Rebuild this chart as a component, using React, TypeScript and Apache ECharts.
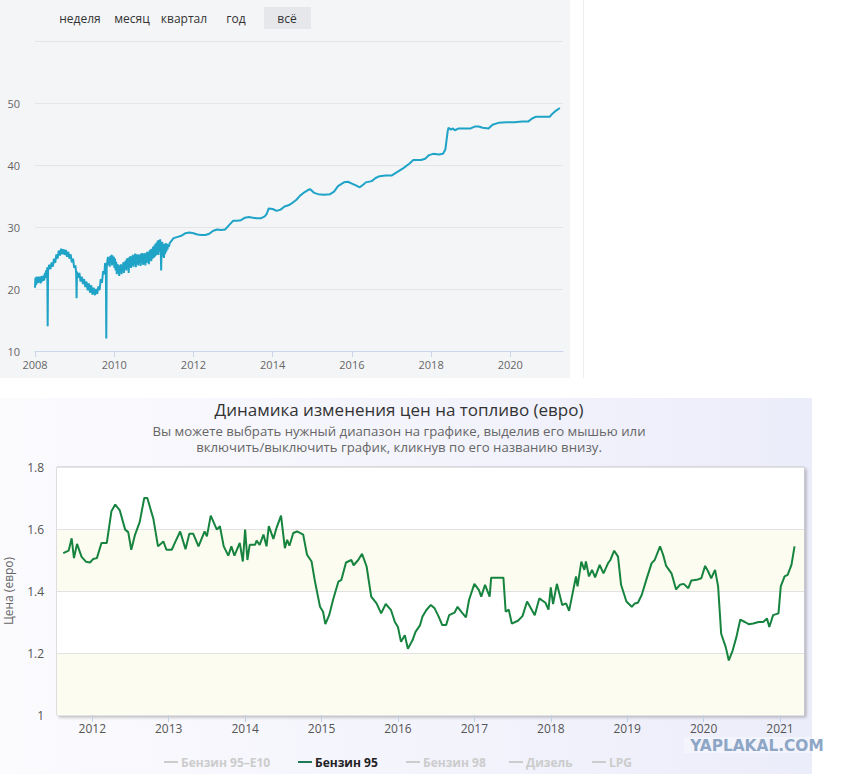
import React, { useEffect, useRef } from "react";
import * as echarts from "echarts";

// ---- Top chart: price series 2008–2021 (year, price)
const rangeButtons = ["неделя", "месяц", "квартал", "год", "всё"];
const topYTicks = [10, 20, 30, 40, 50, 60];
const topXTicks = [2008, 2010, 2012, 2014, 2016, 2018, 2020];
const topPriceSeries: [number, number][] = [
  [2008.0, 20.2], [2008.01, 21.8], [2008.025, 20.6], [2008.04, 22.0], [2008.055, 20.9], [2008.07, 21.9],
  [2008.085, 21.0], [2008.1, 22.0], [2008.115, 21.1], [2008.13, 21.9], [2008.145, 20.9], [2008.16, 22.1],
  [2008.175, 21.2], [2008.19, 22.0], [2008.205, 21.3], [2008.22, 22.2], [2008.235, 21.4], [2008.25, 22.6],
  [2008.265, 21.8], [2008.28, 23.0], [2008.295, 22.2], [2008.31, 23.5],
  [2008.32, 14.0], [2008.33, 23.0], [2008.36, 23.9], [2008.39, 23.2], [2008.42, 24.3], [2008.45, 23.6],
  [2008.48, 24.9], [2008.51, 24.2], [2008.54, 25.6], [2008.57, 24.9], [2008.6, 26.2], [2008.63, 25.4],
  [2008.66, 26.5], [2008.69, 25.6], [2008.72, 26.4], [2008.75, 25.5], [2008.78, 26.3], [2008.81, 25.2],
  [2008.84, 26.0], [2008.87, 24.9], [2008.9, 25.6], [2008.93, 24.3], [2008.96, 24.9], [2008.99, 23.4],
  [2009.02, 23.8], [2009.04, 22.5], [2009.05, 18.5], [2009.06, 22.8], [2009.09, 21.8], [2009.12, 22.6],
  [2009.15, 21.2], [2009.18, 22.0], [2009.21, 20.8], [2009.24, 21.6], [2009.27, 20.3], [2009.3, 21.2],
  [2009.33, 19.8], [2009.36, 20.9], [2009.39, 19.4], [2009.42, 20.6], [2009.45, 19.1], [2009.48, 20.2],
  [2009.51, 19.0], [2009.54, 20.0], [2009.57, 19.2], [2009.6, 20.4], [2009.63, 19.8], [2009.66, 21.6],
  [2009.69, 21.0], [2009.72, 22.9], [2009.75, 22.4], [2009.77, 24.2], [2009.79, 23.1], [2009.8, 12.0],
  [2009.81, 23.5], [2009.84, 25.2], [2009.855, 23.9], [2009.87, 25.0], [2009.885, 23.6], [2009.9, 25.3],
  [2009.915, 24.2], [2009.93, 25.5], [2009.945, 23.8], [2009.96, 25.4], [2009.975, 24.0], [2009.99, 25.2],
  [2010.005, 23.4], [2010.02, 24.9], [2010.035, 23.0], [2010.05, 24.4], [2010.065, 22.4], [2010.08, 24.0],
  [2010.095, 22.8], [2010.11, 23.9], [2010.125, 22.1], [2010.14, 23.6], [2010.155, 22.7], [2010.17, 24.0],
  [2010.185, 22.4], [2010.2, 23.8], [2010.215, 22.9], [2010.23, 24.3], [2010.245, 22.6], [2010.26, 24.4],
  [2010.275, 23.2], [2010.29, 24.6], [2010.305, 23.0], [2010.32, 24.9], [2010.335, 23.5], [2010.35, 25.0],
  [2010.365, 22.6], [2010.38, 25.1], [2010.395, 23.6], [2010.41, 25.3], [2010.425, 23.4], [2010.44, 25.2],
  [2010.455, 23.8], [2010.47, 25.5], [2010.485, 23.6], [2010.5, 25.4], [2010.515, 24.0], [2010.53, 25.7],
  [2010.545, 23.5], [2010.56, 25.6], [2010.575, 24.1], [2010.59, 25.5], [2010.605, 23.8], [2010.62, 25.6],
  [2010.635, 24.2], [2010.65, 25.4], [2010.665, 23.7], [2010.68, 25.7], [2010.695, 24.3], [2010.71, 25.8],
  [2010.725, 23.9], [2010.74, 25.6], [2010.755, 24.1], [2010.77, 25.8], [2010.785, 23.8], [2010.8, 25.6],
  [2010.815, 24.2], [2010.83, 26.0], [2010.845, 24.4], [2010.86, 25.9], [2010.875, 24.0], [2010.89, 26.2],
  [2010.905, 24.6], [2010.92, 26.4], [2010.935, 24.5], [2010.95, 26.5], [2010.965, 24.9], [2010.98, 26.8],
  [2010.995, 25.0], [2011.01, 27.0], [2011.025, 25.2], [2011.04, 27.3], [2011.055, 25.4], [2011.07, 27.5],
  [2011.085, 25.6], [2011.1, 27.8], [2011.115, 25.5], [2011.13, 27.9], [2011.145, 26.0], [2011.16, 28.0],
  [2011.175, 26.2], [2011.185, 23.0], [2011.195, 26.5], [2011.21, 27.6], [2011.225, 25.2], [2011.24, 27.3],
  [2011.255, 25.0], [2011.27, 27.2], [2011.285, 25.6], [2011.3, 27.4], [2011.315, 26.0], [2011.33, 27.3],
  [2011.345, 26.4], [2011.36, 27.2], [2011.38, 26.8], [2011.4, 27.4],
  [2011.45, 27.8], [2011.5, 28.2], [2011.6, 28.4], [2011.7, 28.6], [2011.8, 29.0],
  [2011.9, 29.1], [2012.0, 29.0], [2012.1, 28.8], [2012.2, 28.7], [2012.3, 28.7], [2012.4, 28.9],
  [2012.5, 29.4], [2012.6, 29.6], [2012.7, 29.5], [2012.8, 29.6], [2012.9, 30.3], [2013.0, 31.0],
  [2013.1, 31.0], [2013.2, 31.1], [2013.3, 31.5], [2013.4, 31.6], [2013.5, 31.5], [2013.6, 31.4],
  [2013.7, 31.4], [2013.8, 31.7], [2013.85, 32.1], [2013.9, 33.0], [2014.0, 32.9], [2014.1, 32.6],
  [2014.2, 32.8], [2014.3, 33.3], [2014.4, 33.5], [2014.5, 33.9], [2014.6, 34.4], [2014.7, 35.1],
  [2014.8, 35.6], [2014.9, 36.0], [2014.95, 36.1], [2015.05, 35.5], [2015.15, 35.3], [2015.3, 35.2],
  [2015.45, 35.3], [2015.55, 35.7], [2015.65, 36.6], [2015.8, 37.2], [2015.9, 37.3], [2016.0, 37.0],
  [2016.1, 36.7], [2016.2, 36.4], [2016.3, 36.9], [2016.35, 37.2], [2016.5, 37.4], [2016.6, 37.9],
  [2016.7, 38.2], [2016.85, 38.3], [2017.0, 38.3], [2017.15, 38.9], [2017.3, 39.5], [2017.45, 40.2],
  [2017.55, 40.8], [2017.65, 40.8], [2017.75, 40.8], [2017.85, 41.0], [2017.95, 41.6], [2018.05, 41.8],
  [2018.2, 41.7], [2018.3, 41.8], [2018.36, 42.5], [2018.42, 45.5], [2018.44, 46.0], [2018.5, 45.7],
  [2018.55, 45.9], [2018.6, 45.6], [2018.7, 45.9], [2018.85, 45.9], [2019.0, 45.9], [2019.1, 46.2],
  [2019.2, 46.2], [2019.3, 46.0], [2019.45, 45.9], [2019.55, 46.5], [2019.7, 46.8], [2019.9, 46.9],
  [2020.1, 46.9], [2020.3, 47.0], [2020.45, 47.0], [2020.55, 47.5], [2020.65, 47.8], [2020.8, 47.8],
  [2021.0, 47.8], [2021.05, 48.2], [2021.12, 48.6], [2021.25, 49.2],
];

// ---- Bottom chart: Бензин 95 price (евро) (year, price)
const bottomTitle = "Динамика изменения цен на топливо (евро)";
const bottomSubtitle = [
  "Вы можете выбрать нужный диапазон на графике, выделив его мышью или",
  "включить/выключить график, кликнув по его названию внизу.",
];
const bottomYAxisName = "Цена (евро)";
const bottomYearTicks = [2012, 2013, 2014, 2015, 2016, 2017, 2018, 2019, 2020, 2021];
const legendNames = ["Бензин 95–E10", "Бензин 95", "Бензин 98", "Дизель", "LPG"];
const benzin95Series: [number, number][] = [
  [2011.62, 1.522], [2011.69, 1.53], [2011.73, 1.57], [2011.76, 1.506], [2011.8, 1.552], [2011.86, 1.51],
  [2011.92, 1.494], [2011.97, 1.492], [2012.01, 1.503], [2012.06, 1.506], [2012.12, 1.555], [2012.19, 1.555],
  [2012.25, 1.657], [2012.3, 1.679], [2012.36, 1.66], [2012.43, 1.598], [2012.47, 1.59], [2012.51, 1.533],
  [2012.56, 1.582], [2012.62, 1.622], [2012.68, 1.7], [2012.72, 1.7], [2012.8, 1.632], [2012.86, 1.544],
  [2012.93, 1.56], [2012.97, 1.533], [2013.04, 1.533], [2013.08, 1.555], [2013.15, 1.592], [2013.22, 1.535],
  [2013.27, 1.585], [2013.32, 1.585], [2013.39, 1.544], [2013.47, 1.592], [2013.5, 1.576], [2013.55, 1.643],
  [2013.63, 1.598], [2013.67, 1.609], [2013.72, 1.544], [2013.78, 1.514], [2013.82, 1.544], [2013.86, 1.514],
  [2013.93, 1.555], [2013.97, 1.495], [2014.0, 1.598], [2014.03, 1.5], [2014.06, 1.549], [2014.13, 1.549],
  [2014.15, 1.563], [2014.19, 1.549], [2014.24, 1.582], [2014.28, 1.544], [2014.31, 1.609], [2014.37, 1.568],
  [2014.41, 1.603], [2014.47, 1.643], [2014.52, 1.538], [2014.55, 1.565], [2014.58, 1.546], [2014.63, 1.587],
  [2014.68, 1.592], [2014.76, 1.582], [2014.81, 1.517], [2014.87, 1.495], [2014.91, 1.436], [2014.98, 1.349],
  [2015.02, 1.333], [2015.05, 1.293], [2015.1, 1.322], [2015.15, 1.371], [2015.22, 1.43], [2015.26, 1.436],
  [2015.32, 1.492], [2015.39, 1.5], [2015.42, 1.483], [2015.48, 1.5], [2015.53, 1.52], [2015.59, 1.479],
  [2015.65, 1.382], [2015.72, 1.36], [2015.78, 1.328], [2015.84, 1.358], [2015.91, 1.338], [2015.96, 1.3],
  [2016.0, 1.284], [2016.04, 1.236], [2016.09, 1.257], [2016.13, 1.214], [2016.19, 1.241], [2016.23, 1.268],
  [2016.29, 1.29], [2016.32, 1.317], [2016.37, 1.338], [2016.43, 1.355], [2016.48, 1.344], [2016.53, 1.319],
  [2016.58, 1.29], [2016.63, 1.29], [2016.67, 1.322], [2016.74, 1.33], [2016.78, 1.349], [2016.83, 1.333],
  [2016.89, 1.315], [2016.93, 1.371], [2017.0, 1.423], [2017.06, 1.403], [2017.09, 1.382], [2017.14, 1.42],
  [2017.2, 1.382], [2017.22, 1.443], [2017.38, 1.443], [2017.41, 1.333], [2017.45, 1.34], [2017.49, 1.295],
  [2017.57, 1.304], [2017.63, 1.319], [2017.69, 1.366], [2017.74, 1.344], [2017.79, 1.322], [2017.85, 1.376],
  [2017.93, 1.362], [2017.97, 1.34], [2018.0, 1.412], [2018.03, 1.358], [2018.08, 1.423], [2018.15, 1.355],
  [2018.2, 1.36], [2018.24, 1.336], [2018.29, 1.398], [2018.33, 1.447], [2018.35, 1.415], [2018.4, 1.495],
  [2018.44, 1.468], [2018.46, 1.495], [2018.5, 1.447], [2018.54, 1.468], [2018.58, 1.444], [2018.64, 1.484],
  [2018.69, 1.457], [2018.75, 1.49], [2018.78, 1.5], [2018.83, 1.53], [2018.88, 1.511], [2018.92, 1.42],
  [2018.99, 1.366], [2019.06, 1.349], [2019.1, 1.36], [2019.14, 1.362], [2019.19, 1.387], [2019.25, 1.436],
  [2019.32, 1.49], [2019.36, 1.5], [2019.43, 1.544], [2019.47, 1.517], [2019.51, 1.481], [2019.58, 1.457],
  [2019.64, 1.405], [2019.69, 1.42], [2019.74, 1.423], [2019.8, 1.409], [2019.84, 1.434], [2019.91, 1.436],
  [2019.97, 1.441], [2020.02, 1.481], [2020.06, 1.463], [2020.1, 1.441], [2020.15, 1.468], [2020.19, 1.415],
  [2020.23, 1.262], [2020.29, 1.219], [2020.33, 1.176], [2020.38, 1.208], [2020.43, 1.252], [2020.48, 1.308],
  [2020.54, 1.3], [2020.59, 1.293], [2020.65, 1.295], [2020.72, 1.3], [2020.78, 1.3], [2020.83, 1.311],
  [2020.86, 1.284], [2020.91, 1.322], [2020.98, 1.328], [2021.01, 1.415], [2021.06, 1.447], [2021.1, 1.452],
  [2021.15, 1.484], [2021.19, 1.544],
];
const watermark = "YAPLAKAL.COM";

export default function App() {
  const ref = useRef<HTMLDivElement>(null);
  useEffect(() => {
    document.body.style.margin = "0";
    if (!ref.current) return;
    const chart = echarts.init(ref.current, null, { renderer: "svg" });

    const btnX = [80, 132, 184, 236, 287];
    const legendX = [164, 298, 406, 509, 592];
    const graphic: any[] = [
      { type: "rect", z: -100, shape: { x: 0, y: 0, width: 570, height: 378 }, style: { fill: "#f4f5f7" } },
      { type: "line", z: -100, shape: { x1: 583.5, y1: 0, x2: 583.5, y2: 378 }, style: { stroke: "#eeeeee", lineWidth: 1 } },
      {
        type: "rect", z: -100, shape: { x: 0, y: 398, width: 812, height: 376 },
        style: {
          fill: new echarts.graphic.LinearGradient(0, 0, 1, 0, [
            { offset: 0, color: "#fbfbfe" },
            { offset: 1, color: "#ecedfa" },
          ]),
        },
      },
      { type: "rect", z: -50, shape: { x: 264, y: 7, width: 47, height: 22 }, style: { fill: "#e6e7ea" } },
    ];
    rangeButtons.forEach((b, i) => {
      graphic.push({
        type: "text", z: 100, x: btnX[i], y: 18,
        style: { text: b, fill: "#333", font: "12px 'Open Sans'", textAlign: "center", textVerticalAlign: "middle" },
      });
    });
    graphic.push({
      type: "text", z: 100, x: 399, y: 409.5,
      style: { text: bottomTitle, fill: "#333", font: "17px 'Open Sans'", lineHeight: 18, textAlign: "center", textVerticalAlign: "middle" },
    });
    bottomSubtitle.forEach((s, i) => {
      graphic.push({
        type: "text", z: 100, x: 399, y: 430.5 + i * 16.5,
        style: { text: s, fill: "#666", font: "13.2px 'Open Sans'", lineHeight: 14, textAlign: "center", textVerticalAlign: "middle" },
      });
    });
    legendNames.forEach((n, i) => {
      const active = i === 1;
      graphic.push({
        type: "line", z: 100, shape: { x1: legendX[i], y1: 762, x2: legendX[i] + 14, y2: 762 },
        style: { stroke: active ? "#1d7a55" : "#cccccc", lineWidth: 2 },
      });
      graphic.push({
        type: "text", z: 100, x: legendX[i] + 17, y: 762,
        style: { text: n, fill: active ? "#222" : "#cccccc", font: "bold 12px 'Open Sans'", textAlign: "left", textVerticalAlign: "middle" },
      });
    });
    graphic.push({ type: "rect", z: 90, shape: { x: 684, y: 737, width: 142, height: 16 }, style: { fill: "rgba(255,255,255,0.35)" } });
    graphic.push({
      type: "text", z: 100, x: 757, y: 745.5, scaleX: 1.14,
      style: { text: watermark, fill: "#8ea6c6", font: "bold 15px 'DejaVu Sans Condensed'", lineHeight: 14, textAlign: "center", textVerticalAlign: "middle" },
    });

    chart.setOption({
      animation: false,
      graphic,
      grid: [
        { left: 35, top: 41, width: 528, height: 310, outerBoundsMode: "none", containLabel: false },
        {
          left: 57, top: 467, width: 747, height: 248, show: true, outerBoundsMode: "none", containLabel: false,
          backgroundColor: "#ffffff", borderColor: "#c4c4c4", borderWidth: 1,
          shadowColor: "rgba(0,0,0,0.25)", shadowBlur: 3, shadowOffsetX: 2, shadowOffsetY: 2,
        },
      ],
      xAxis: [
        {
          type: "value", gridIndex: 0, min: 2008, max: 2021.33,
          axisLine: { show: true, lineStyle: { color: "#ccd6eb" } },
          axisTick: { show: true, length: 6, customValues: topXTicks, lineStyle: { color: "#ccd6eb" } },
          axisLabel: { customValues: topXTicks, formatter: (v: number) => String(v), color: "#666", fontSize: 11, fontFamily: "Open Sans", margin: 8 },
          splitLine: { show: false },
        },
        {
          type: "value", gridIndex: 1, min: 2011.538, max: 2021.314,
          axisLine: { show: false },
          axisTick: { show: true, length: 7, customValues: bottomYearTicks, lineStyle: { color: "#c0d0e0" } },
          axisLabel: {
            customValues: bottomYearTicks, formatter: (v: number) => String(v), color: "#555", fontSize: 12,
            fontFamily: "Open Sans", margin: 7, lineHeight: 13,
          },
          splitLine: { show: false },
        },
      ],
      yAxis: [
        {
          type: "value", gridIndex: 0, min: topYTicks[0], max: topYTicks[topYTicks.length - 1], interval: 10,
          axisLine: { show: false }, axisTick: { show: false },
          axisLabel: { showMaxLabel: false, color: "#666", fontSize: 11, fontFamily: "Open Sans", margin: 15 },
          splitLine: { lineStyle: { color: "#e3e5e8" } },
        },
        {
          type: "value", gridIndex: 1, min: 1, max: 1.8, interval: 0.2,
          name: bottomYAxisName, nameLocation: "middle", nameRotate: 90, nameGap: 42,
          nameTextStyle: { color: "#666", fontSize: 12, fontFamily: "Open Sans", lineHeight: 14 },
          axisLine: { show: false }, axisTick: { show: false },
          axisLabel: { color: "#555", fontSize: 12, fontFamily: "Open Sans", margin: 13, formatter: (v: number) => String(Math.round(v * 10) / 10) },
          splitLine: { lineStyle: { color: "#e2e2e2" } },
          splitArea: { show: true, areaStyle: { color: ["#fdfcf0", "#ffffff"] } },
        },
      ],
      series: [
        {
          type: "line", xAxisIndex: 0, yAxisIndex: 0, data: topPriceSeries, showSymbol: false,
          lineStyle: { color: "#1fa3c7", width: 2 }, itemStyle: { color: "#1fa3c7" },
        },
        {
          type: "line", xAxisIndex: 1, yAxisIndex: 1, data: benzin95Series, showSymbol: false,
          lineStyle: { color: "#16843f", width: 2 }, itemStyle: { color: "#16843f" },
        },
      ],
    });
    return () => chart.dispose();
  }, []);
  return <div ref={ref} style={{ width: 852, height: 774 }} />;
}
